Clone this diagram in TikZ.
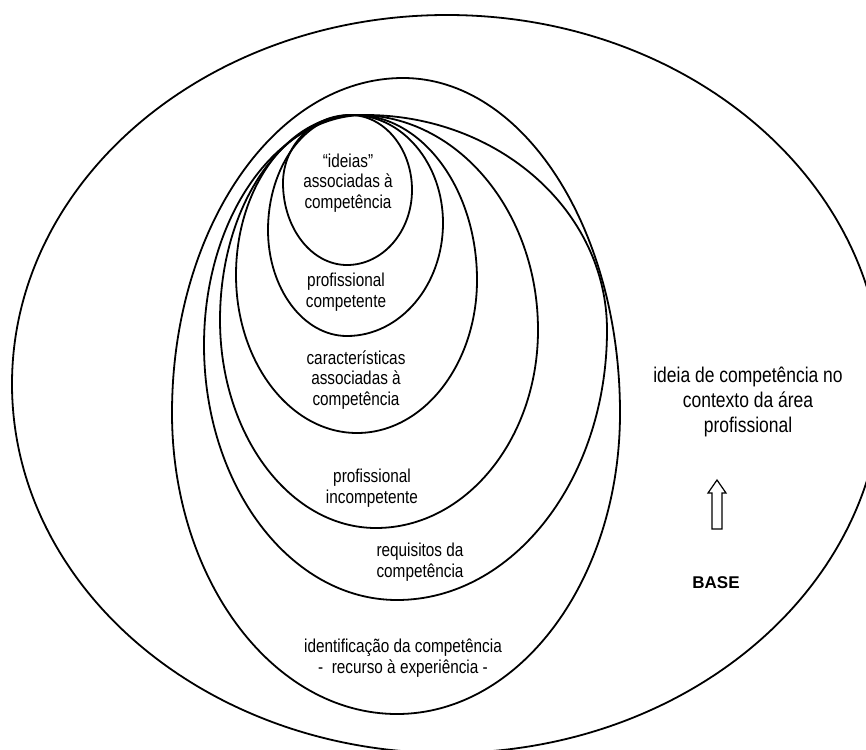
\documentclass[tikz,border=0pt]{standalone}
\usepackage{fontspec}
\setmainfont{Liberation Sans}[FakeStretch=0.82]
\newfontfamily\basefont{Liberation Sans}

% Closed oval through its top, right, bottom and left extreme points,
% built from four quarter Bezier arcs: #1 style, T=(#2,#3) R=(#4,#5) B=(#6,#7) L=(#8,#9)
\newcommand\drawoval[9]{%
  \draw[#1] (#2,#3)
    .. controls ({#2+0.5523*(#4-#2)},#3) and (#4,{#5-0.5523*(#5-#3)}) .. (#4,#5)
    .. controls (#4,{#5+0.5523*(#7-#5)}) and ({#6+0.5523*(#4-#6)},#7) .. (#6,#7)
    .. controls ({#6-0.5523*(#6-#8)},#7) and (#8,{#9+0.5523*(#7-#9)}) .. (#8,#9)
    .. controls (#8,{#9-0.5523*(#9-#3)}) and ({#2-0.5523*(#2-#8)},#3) .. cycle;}

\begin{document}
\begin{tikzpicture}[x=1pt,y=-1pt,
  ring/.style={draw=black,line width=1.8pt},
  % multi-line labels are placed by the baseline of their last line
  lbl/.style={align=center,inner sep=0pt,anchor=base,
    font=\fontsize{18.7}{20.5}\selectfont},
  biglbl/.style={align=center,inner sep=0pt,anchor=base,
    font=\fontsize{21.3}{25}\selectfont},
  baselbl/.style={inner sep=0pt,anchor=base,
    font=\basefont\bfseries\fontsize{17}{20}\selectfont},
  hollowarrow/.style={draw=black,line width=1.2pt,line join=miter}]
\useasboundingbox (0,0) rectangle (866,749);

% outer field, running past the right and lower edges
\begin{scope}
  \clip (0,0) rectangle (866,749);
  \draw[ring] (447,384) ellipse [x radius=435, y radius=369];
\end{scope}

% nested ovals, innermost first
\drawoval{ring}{350}{115}{412}{190}{347}{265}{283}{183}
\drawoval{ring}{352}{115}{443}{223}{347}{336}{268}{230}
\drawoval{ring}{355}{115}{477}{280}{357}{433}{236}{275}
\drawoval{ring}{358}{115}{538}{330}{376}{528}{220}{320}
\drawoval{ring}{365}{115}{607}{330}{397}{600}{204}{345}
\drawoval{ring}{403}{78}{620}{413}{397}{714}{172}{413}

% labels
\node[lbl] (ideias) at (348,208) {“ideias”\\associadas à\\competência};
\node[lbl] (competente) at (346,307) {profissional\\competente};
\node[lbl] (caracteristicas) at (356,405) {características\\associadas à\\competência};
\node[lbl] (incompetente) at (372,503) {profissional\\incompetente};
\node[lbl] (requisitos) at (420,577) {requisitos da\\competência};
\node[lbl] (identificacao) at (403,673) {identificação da competência\\-\ \ recurso à experiência -};
\node[biglbl] (contexto) at (748,432) {ideia de competência no\\contexto da área\\profissional};
\node[baselbl] (base) at (716,588) {BASE};

% hollow upward arrow
\draw[hollowarrow] (717,480) -- (726,493) -- (722,493) -- (722,529)
  -- (712,529) -- (712,493) -- (708,493) -- cycle;
\end{tikzpicture}
\end{document}
